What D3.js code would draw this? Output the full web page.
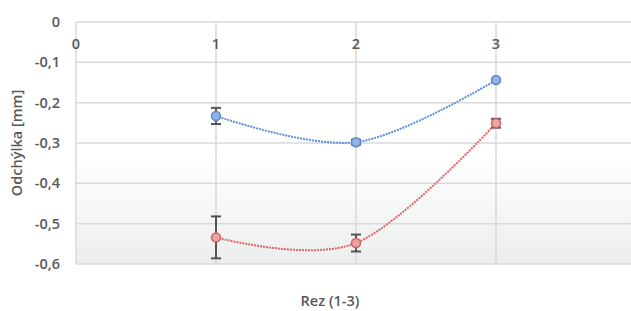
<!DOCTYPE html>
<html>
<head>
<meta charset="utf-8">
<script src="https://cdn.jsdelivr.net/npm/d3@7"></script>
<style>
  body { margin: 0; background: #fff; }
  text { font-family: "Open Sans", "Liberation Sans", sans-serif; fill: #595959; }
</style>
</head>
<body>
<svg id="chart"></svg>
<script>
const cuts = [1, 2, 3];
const blueValues = [-0.233, -0.298, -0.144];
const blueErrors = [0.02, 0.006, 0.003];
const redValues = [-0.534, -0.548, -0.251];
const redErrors = [0.052, 0.021, 0.011];
const yTicks = [0, -0.1, -0.2, -0.3, -0.4, -0.5, -0.6];
const xTicks = [0, 1, 2, 3, 4];

const width = 631, height = 311;
const svg = d3.select("#chart").attr("width", width).attr("height", height);

const x = d3.scaleLinear().domain([0, 4]).range([76, 636]);
const y = d3.scaleLinear().domain([-0.6, 0]).range([264, 22]);

// light gradient in the lower part of the plot
const defs = svg.append("defs");
const grad = defs.append("linearGradient").attr("id", "bg")
  .attr("x1", 0).attr("y1", 0).attr("x2", 0).attr("y2", 1);
grad.append("stop").attr("offset", "0%").attr("stop-color", "#ffffff");
grad.append("stop").attr("offset", "55%").attr("stop-color", "#ffffff");
grad.append("stop").attr("offset", "100%").attr("stop-color", "#eceeee");

svg.append("rect")
  .attr("x", x(0)).attr("y", y(0))
  .attr("width", width - x(0)).attr("height", y(-0.6) - y(0))
  .attr("fill", "url(#bg)");

// grid
svg.append("g")
  .selectAll("line")
  .data(yTicks)
  .enter()
  .append("line")
  .attr("x1", x(0)).attr("x2", width)
  .attr("y1", d => y(d)).attr("y2", d => y(d))
  .attr("stroke", "#d9d9d9").attr("stroke-width", 1.5);

svg.append("g")
  .selectAll("line")
  .data(xTicks)
  .enter()
  .append("line")
  .attr("x1", d => x(d)).attr("x2", d => x(d))
  .attr("y1", y(0)).attr("y2", y(-0.6))
  .attr("stroke", "#d9d9d9").attr("stroke-width", 1.5);

// y tick labels
svg.append("g")
  .selectAll("text")
  .data(yTicks)
  .enter()
  .append("text")
  .attr("x", 60)
  .attr("y", d => y(d) + 5)
  .attr("text-anchor", "end")
  .style("font-size", "14.5px")
  .style("font-weight", "600")
  .text(d => d === 0 ? "0" : d3.format(".1f")(d).replace(".", ",").replace("−", "-"));

// x tick labels (axis sits at y = 0)
svg.append("g")
  .selectAll("text")
  .data(xTicks.slice(0, 4))
  .enter()
  .append("text")
  .attr("x", d => x(d))
  .attr("y", y(0) + 27)
  .attr("text-anchor", "middle")
  .style("font-size", "14.5px")
  .style("font-weight", "600")
  .text(d => d);

// axis titles
svg.append("text")
  .attr("transform", `translate(22,${(y(0) + y(-0.6)) / 2}) rotate(-90)`)
  .attr("text-anchor", "middle")
  .style("font-size", "14.5px")
  .style("font-weight", "600")
  .text("Odchýlka [mm]");

svg.append("text")
  .attr("x", 330)
  .attr("y", 306)
  .attr("text-anchor", "middle")
  .style("font-size", "14.5px")
  .style("font-weight", "600")
  .text("Rez (1-3)");

const line = d3.line()
  .x(d => x(d.cut))
  .y(d => y(d.value))
  .curve(d3.curveCatmullRom.alpha(0));

const drawSeries = (values, errors, lineColor, fill, stroke) => {
  const data = cuts.map((c, i) => ({ cut: c, value: values[i], err: errors[i] }));
  const g = svg.append("g");

  g.append("path")
    .datum(data)
    .attr("d", line)
    .attr("fill", "none")
    .attr("stroke", lineColor)
    .attr("stroke-width", 2)
    .attr("stroke-dasharray", "2,1");

  const eb = g.selectAll("g.err").data(data).enter().append("g");
  eb.append("line")
    .attr("x1", d => x(d.cut)).attr("x2", d => x(d.cut))
    .attr("y1", d => y(d.value + d.err)).attr("y2", d => y(d.value - d.err))
    .attr("stroke", "#555").attr("stroke-width", 2);
  eb.append("line")
    .attr("x1", d => x(d.cut) - 5).attr("x2", d => x(d.cut) + 5)
    .attr("y1", d => y(d.value + d.err)).attr("y2", d => y(d.value + d.err))
    .attr("stroke", "#555").attr("stroke-width", 2);
  eb.append("line")
    .attr("x1", d => x(d.cut) - 5).attr("x2", d => x(d.cut) + 5)
    .attr("y1", d => y(d.value - d.err)).attr("y2", d => y(d.value - d.err))
    .attr("stroke", "#555").attr("stroke-width", 2);

  g.selectAll("circle")
    .data(data)
    .enter()
    .append("circle")
    .attr("cx", d => x(d.cut))
    .attr("cy", d => y(d.value))
    .attr("r", 4.5)
    .attr("fill", fill)
    .attr("stroke", stroke)
    .attr("stroke-width", 1.5);
};

drawSeries(blueValues, blueErrors, "#5b8fd8", "#93b3e3", "#5b87c9");
drawSeries(redValues, redErrors, "#e06666", "#eba3a3", "#d46060");
</script>
</body>
</html>
